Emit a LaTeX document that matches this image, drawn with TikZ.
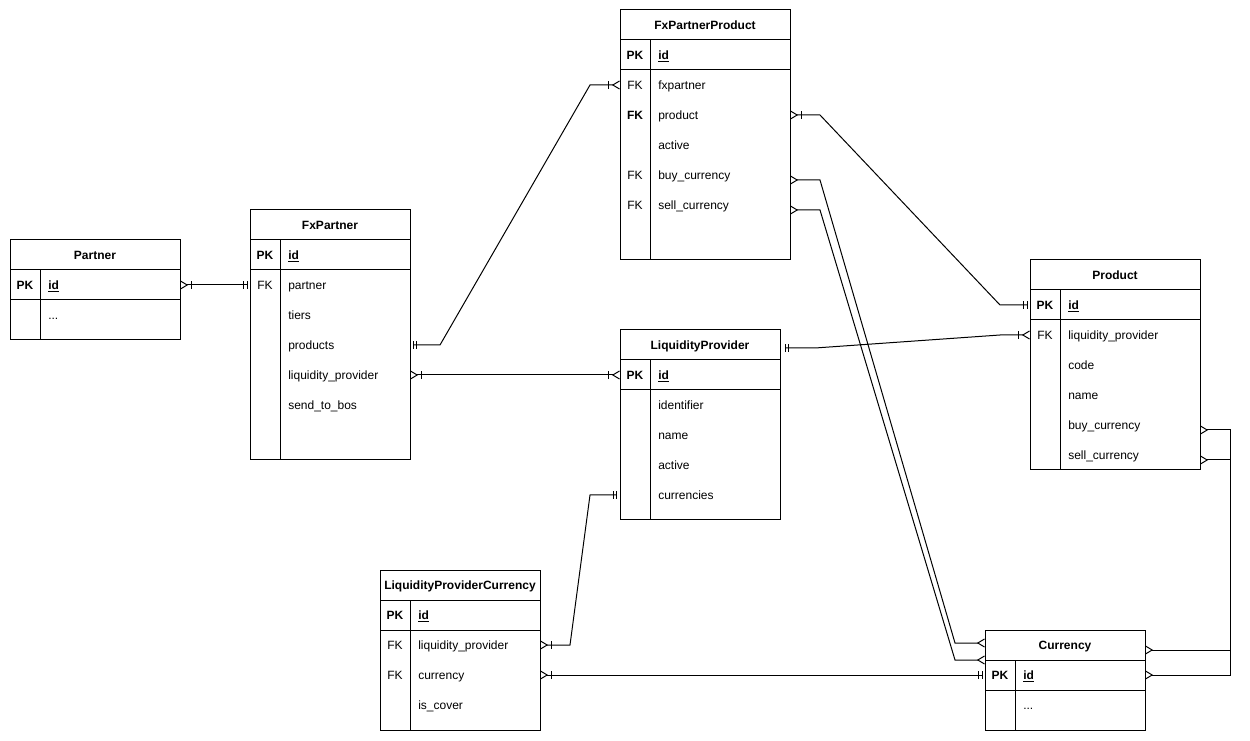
\documentclass[tikz,border=0pt]{standalone}
\usepackage{fontspec}
\setmainfont{Liberation Sans}
\usetikzlibrary{arrows.meta}
\tikzset{
  crow/.tip={Straight Barb[reversed,length=5pt,width=6pt,line width=0.75pt]},
  stroke/.tip={Bar[width=5.5pt,line width=0.75pt]},
  rel/.style={line width=0.75pt},
  tbl/.style={line width=0.75pt},
  txt/.style={text height=7pt, text depth=0.8pt, inner sep=0pt},
  ttl/.style={txt, font=\fontsize{9}{11}\selectfont\bfseries},
  pk/.style={txt, font=\fontsize{9}{11}\selectfont\bfseries},
  fk/.style={txt, font=\fontsize{9}{11}\selectfont},
  fld/.style={txt, anchor=west, font=\fontsize{9}{11}\selectfont},
}
\begin{document}
\begin{tikzpicture}[x=0.75pt,y=-0.75pt]
    \useasboundingbox (0,0) rectangle (1250,741);

    % Partner
    \draw[tbl] (10,240) rectangle (180,340);
    \draw[tbl] (10,270)--(180,270) (10,300)--(180,300) (40,270)--(40,340);
    \node[ttl] (partner) at (95,255) {Partner};
    \node[pk] (partner-pk) at (25,285) {PK};
    \node[fld] (partner-id) at (48,285) {\bfseries\underline{id}};
    \node[fld] (partner-more) at (48,315) {...};
    \coordinate (partner-r) at (180,285);

    % FxPartner
    \draw[tbl] (250,210) rectangle (410,460);
    \draw[tbl] (250,240)--(410,240) (250,270)--(410,270) (280,240)--(280,460);
    \node[ttl] (fxpartner) at (330,225) {FxPartner};
    \node[pk] (fxpartner-pk) at (265,255) {PK};
    \node[fld] (fxpartner-id) at (288,255) {\bfseries\underline{id}};
    \node[fk] (fxpartner-fk) at (265,285) {FK};
    \node[fld] (fxpartner-partner) at (288,285) {partner};
    \node[fld] (fxpartner-tiers) at (288,315) {tiers};
    \node[fld] (fxpartner-products) at (288,345) {products};
    \node[fld] (fxpartner-lp) at (288,375) {liquidity\_provider};
    \node[fld] (fxpartner-bos) at (288,405) {send\_to\_bos};
    \coordinate (fxpartner-l) at (250,285);
    \coordinate (fxpartner-r1) at (410,345);
    \coordinate (fxpartner-r2) at (410,375);

    % FxPartnerProduct
    \draw[tbl] (620,10) rectangle (790,260);
    \draw[tbl] (620,40)--(790,40) (620,70)--(790,70) (650,40)--(650,260);
    \node[ttl] (fxpp) at (705,25) {FxPartnerProduct};
    \node[pk] (fxpp-pk) at (635,55) {PK};
    \node[fld] (fxpp-id) at (658,55) {\bfseries\underline{id}};
    \node[fk] (fxpp-fk1) at (635,85) {FK};
    \node[fld] (fxpp-fxpartner) at (658,85) {fxpartner};
    \node[pk] (fxpp-fk2) at (635,115) {FK};
    \node[fld] (fxpp-product) at (658,115) {product};
    \node[fld] (fxpp-active) at (658,145) {active};
    \node[fk] (fxpp-fk3) at (635,175) {FK};
    \node[fld] (fxpp-buy) at (658,175) {buy\_currency};
    \node[fk] (fxpp-fk4) at (635,205) {FK};
    \node[fld] (fxpp-sell) at (658,205) {sell\_currency};
    \coordinate (fxpp-l) at (620,85);
    \coordinate (fxpp-r1) at (790,115);
    \coordinate (fxpp-r2) at (790,180);
    \coordinate (fxpp-r3) at (790,210);

    % LiquidityProvider
    \draw[tbl] (620,330) rectangle (780,520);
    \draw[tbl] (620,360)--(780,360) (620,390)--(780,390) (650,360)--(650,520);
    \node[ttl] (lp) at (700,345) {LiquidityProvider};
    \node[pk] (lp-pk) at (635,375) {PK};
    \node[fld] (lp-id) at (658,375) {\bfseries\underline{id}};
    \node[fld] (lp-identifier) at (658,405) {identifier};
    \node[fld] (lp-name) at (658,435) {name};
    \node[fld] (lp-active) at (658,465) {active};
    \node[fld] (lp-currencies) at (658,495) {currencies};
    \coordinate (lp-l1) at (620,375);
    \coordinate (lp-l2) at (620,495);
    \coordinate (lp-r) at (782,348);

    % Product
    \draw[tbl] (1030,260) rectangle (1200,470);
    \draw[tbl] (1030,290)--(1200,290) (1030,320)--(1200,320) (1060,290)--(1060,470);
    \node[ttl] (product) at (1115,275) {Product};
    \node[pk] (product-pk) at (1045,305) {PK};
    \node[fld] (product-id) at (1068,305) {\bfseries\underline{id}};
    \node[fk] (product-fk) at (1045,335) {FK};
    \node[fld] (product-lp) at (1068,335) {liquidity\_provider};
    \node[fld] (product-code) at (1068,365) {code};
    \node[fld] (product-name) at (1068,395) {name};
    \node[fld] (product-buy) at (1068,425) {buy\_currency};
    \node[fld] (product-sell) at (1068,455) {sell\_currency};
    \coordinate (product-l1) at (1030,305);
    \coordinate (product-l2) at (1030,335);
    \coordinate (product-r1) at (1200,430);
    \coordinate (product-r2) at (1200,460);

    % LiquidityProviderCurrency
    \draw[tbl] (380,570) rectangle (540,730);
    \draw[tbl] (380,600)--(540,600) (380,630)--(540,630) (410,600)--(410,730);
    \node[ttl] (lpc) at (460,585) {LiquidityProviderCurrency};
    \node[pk] (lpc-pk) at (395,615) {PK};
    \node[fld] (lpc-id) at (418,615) {\bfseries\underline{id}};
    \node[fk] (lpc-fk1) at (395,645) {FK};
    \node[fld] (lpc-lp) at (418,645) {liquidity\_provider};
    \node[fk] (lpc-fk2) at (395,675) {FK};
    \node[fld] (lpc-currency) at (418,675) {currency};
    \node[fld] (lpc-cover) at (418,705) {is\_cover};
    \coordinate (lpc-r1) at (540,645);
    \coordinate (lpc-r2) at (540,675);

    % Currency
    \draw[tbl] (985,630) rectangle (1145,730);
    \draw[tbl] (985,660)--(1145,660) (985,690)--(1145,690) (1015,660)--(1015,730);
    \node[ttl] (currency) at (1065,645) {Currency};
    \node[pk] (currency-pk) at (1000,675) {PK};
    \node[fld] (currency-id) at (1023,675) {\bfseries\underline{id}};
    \node[fld] (currency-more) at (1023,705) {...};
    \coordinate (currency-l1) at (985,643);
    \coordinate (currency-l2) at (985,660);
    \coordinate (currency-l3) at (985,675);
    \coordinate (currency-r1) at (1145,650);
    \coordinate (currency-r2) at (1145,675);

    % relations
    \draw[rel,{crow[]stroke[sep=2pt]}-{stroke[sep=2pt]stroke[sep=1.5pt]}] (partner-r)--(fxpartner-l);
    \draw[rel,{stroke[sep=2pt]stroke[sep=1.5pt]}-{stroke[sep=2pt]crow[]}] (fxpartner-r1)--++(30,0)--(590,85)--(fxpp-l);
    \draw[rel,{crow[]stroke[sep=2pt]}-{stroke[sep=2pt]crow[]}] (fxpartner-r2)--(lp-l1);
    \draw[rel,{crow[]stroke[sep=2pt]}-{stroke[sep=2pt]stroke[sep=1.5pt]}] (fxpp-r1)--++(30,0)--(1000,305)--(product-l1);
    \draw[rel,{crow[]}-{crow[]}] (fxpp-r2)--++(30,0)--(955,643)--(currency-l1);
    \draw[rel,{crow[]}-{crow[]}] (fxpp-r3)--++(30,0)--(955,660)--(currency-l2);
    \draw[rel,{stroke[sep=2pt]stroke[sep=1.5pt]}-{stroke[sep=2pt]crow[]}] (lp-r)--(815,348)--(1000,335)--(product-l2);
    \draw[rel,{stroke[sep=2pt]stroke[sep=1.5pt]}-{stroke[sep=2pt]crow[]}] (lp-l2)--(590,495)--(570,645)--(lpc-r1);
    \draw[rel,{crow[]stroke[sep=2pt]}-{stroke[sep=2pt]stroke[sep=1.5pt]}] (lpc-r2)--(currency-l3);
    \draw[rel,{crow[]}-{crow[]}] (product-r1)--(1230,430)--(1230,650)--(currency-r1);
    \draw[rel,{crow[]}-{crow[]}] (product-r2)--(1230,460)--(1230,675)--(currency-r2);
\end{tikzpicture}
\end{document}
